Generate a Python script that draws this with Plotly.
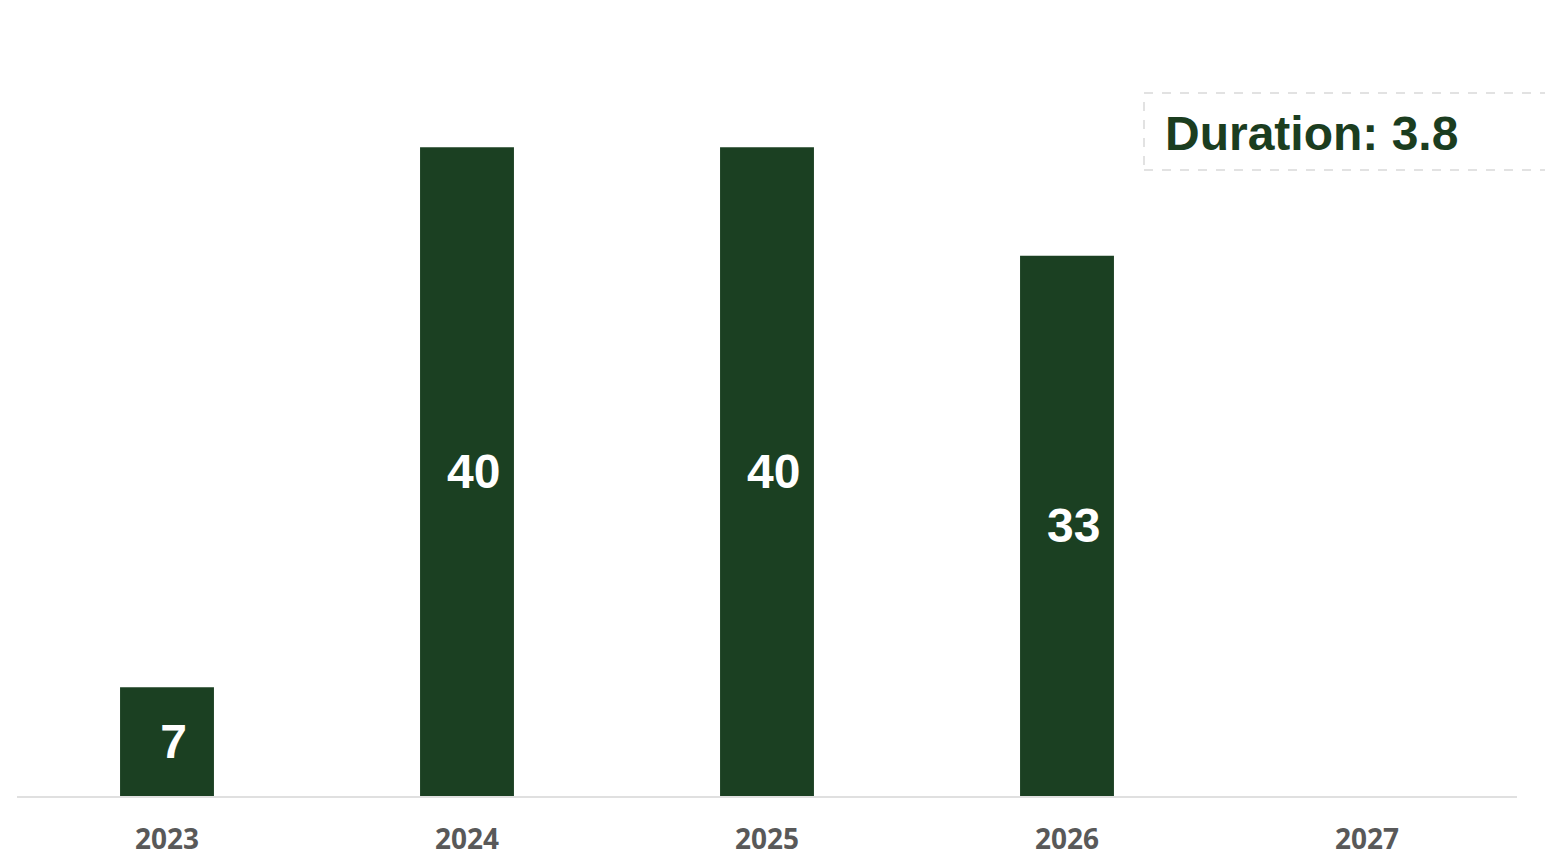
import plotly.graph_objects as go

years = ["2023", "2024", "2025", "2026", "2027"]
values = [6.7, 40.0, 40.0, 33.3, None]
duration_label = "Duration: 3.8"

BAR = "#1b4022"
W, H = 1545, 852
plot_top, plot_bottom = 0, 796
px_per_unit = 16.22
ymax = (plot_bottom - plot_top) / px_per_unit

fig = go.Figure(go.Bar(
    x=years, y=values,
    marker=dict(color=BAR, line=dict(width=0)),
    texttemplate="\u00a0%{y:.0f}",
    textposition="inside",
    insidetextanchor="middle",
    textangle=0,
    textfont=dict(color="white", size=48, family="Liberation Sans, Arial", weight="bold"),
    cliponaxis=False,
    hoverinfo="skip",
))

fig.update_layout(
    width=W, height=H,
    margin=dict(l=17, r=28, t=plot_top, b=H - plot_bottom),
    paper_bgcolor="white", plot_bgcolor="white",
    bargap=0.687,
    showlegend=False,
    xaxis=dict(
        showgrid=False, zeroline=False, automargin=False,
        showline=True, linecolor="#e0e0e0", linewidth=2,
        ticks="", tickfont=dict(family="Open Sans", size=28, color="#595959", weight="bold"),
        ticklabelstandoff=17,
    ),
    yaxis=dict(range=[0, ymax], visible=False, showgrid=False, zeroline=False, automargin=False),
)

plot_h = plot_bottom - plot_top
def py(p):
    return 1 - (p - plot_top) / plot_h
def px(p):
    return (p - 17) / 1500

fig.add_shape(type="rect", xref="paper", yref="paper",
              x0=px(1144), x1=px(1560), y0=py(170), y1=py(93),
              line=dict(color="#d9d9d9", width=1.5, dash="dash"),
              fillcolor="rgba(0,0,0,0)")
fig.add_annotation(xref="paper", yref="paper", x=px(1163), y=py(133),
                   xanchor="left", yanchor="middle", showarrow=False,
                   text=duration_label,
                   font=dict(family="Liberation Sans, Arial", size=48, color="#1b3d1f", weight="bold"))

fig.write_html("out.html")
